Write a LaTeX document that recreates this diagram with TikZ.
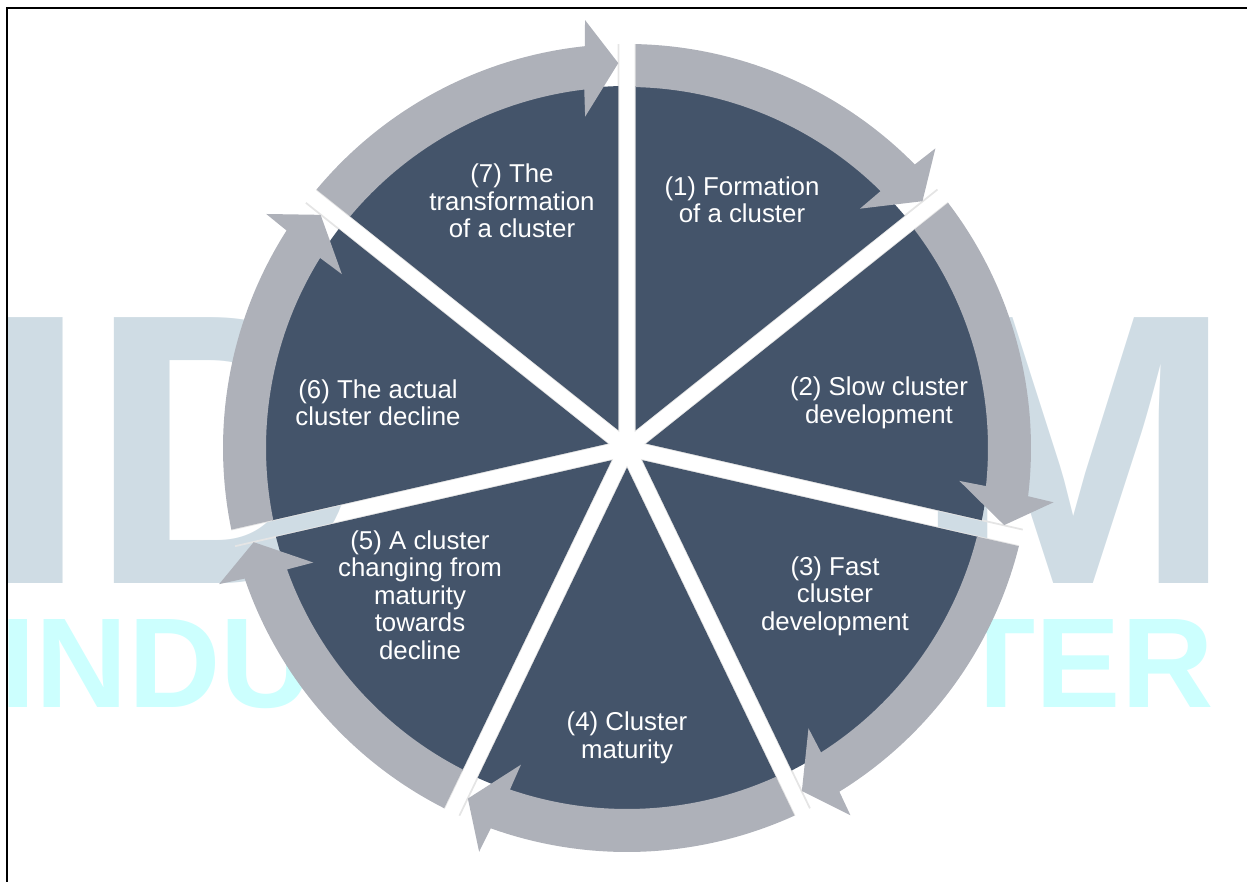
\documentclass[tikz,border=0pt]{standalone}
\usepackage{fontspec}
\setmainfont{Liberation Sans}
\usepackage{tikz}
\usetikzlibrary{calc}
\usepackage{xcolor}

\definecolor{slate}{HTML}{44546A}
\definecolor{band}{HTML}{AEB1B9}
\definecolor{markgrey}{HTML}{CFDCE4}
\definecolor{markcyan}{HTML}{CCFFFE}

% one grey arc arrow, #1 = angle of the separator it runs into
\newcommand{\stagearrow}[1]{%
  \fill[band] ({#1+51.4286}:404) arc[start angle={#1+51.4286}, end angle={#1+6}, radius=404]
    -- ({#1+5.6}:430) -- ({#1+1.3}:385) -- ({#1+7.2}:334) -- ({#1+6.8}:361)
    arc[start angle={#1+6.8}, end angle={#1+51.4286}, radius=361] -- cycle;}

% the white star of gaps between the wedges
\newcommand{\gapstar}{(64.2857:19.6) -- (88.94:460) -- (91.06:460)
  -- (115.7143:19.6) -- (140.37:460) -- (142.49:460)
  -- (167.1429:19.6) -- (191.80:460) -- (193.92:460)
  -- (218.5714:19.6) -- (243.23:460) -- (245.35:460)
  -- (270:19.6) -- (294.65:460) -- (296.77:460)
  -- (321.4286:19.6) -- (346.08:460) -- (348.20:460)
  -- (372.8571:19.6) -- (397.51:460) -- (399.63:460) -- cycle}

\tikzset{
  stage/.style={text=white, align=center, inner sep=0pt,
    font=\fontsize{14.7}{15.6}\selectfont},
  bigmark/.style={inner sep=0pt, markgrey, font=\fontsize{220}{220}\selectfont\bfseries},
  smallmark/.style={inner sep=0pt, markcyan, font=\fontsize{72.8}{73}\selectfont\bfseries}
}

\begin{document}
\begin{tikzpicture}[x=0.02cm, y=0.02cm]
\useasboundingbox (-627,-434) rectangle (620,448);

\node[bigmark, anchor=base west] (wid) at (-646,-135) {ID};
\node[bigmark, anchor=base east] (wm) at (608,-135) {M};
\node[smallmark, anchor=base west] (windu) at (-627,-259) {INDU};
\node[smallmark, anchor=base east] (wter) at (587,-259) {TER};

\begin{scope}
\clip (0,0) circle (404);
\draw[gray!20, line width=1pt] \gapstar;
\end{scope}

\begin{scope}[even odd rule]
\clip (-700,-500) rectangle (700,500) \gapstar;
\fill[slate] (0,0) circle (362);
\stagearrow{38.5714}
\stagearrow{-12.8571}
\stagearrow{-64.2857}
\stagearrow{-115.7143}
\stagearrow{-167.1429}
\stagearrow{-218.5714}
\stagearrow{-270}
\end{scope}

\node[stage] (s1) at (115,248) {(1) Formation\\of a cluster};
\node[stage] (s2) at (252,45) {(2) Slow cluster\\development};
\node[stage] (s3) at (208,-148) {(3) Fast\\cluster\\development};
\node[stage] (s4) at (0,-290) {(4) Cluster\\maturity};
\node[stage] (s5) at (-207,-147) {(5) A cluster\\changing from\\maturity\\towards\\decline};
\node[stage] (s6) at (-249,45) {(6) The actual\\cluster decline};
\node[stage] (s7) at (-115,247) {(7) The\\transformation\\of a cluster};

\draw[line width=1.13pt] (-620,-434) -- (-620,440) -- (620,440);
\end{tikzpicture}
\end{document}
